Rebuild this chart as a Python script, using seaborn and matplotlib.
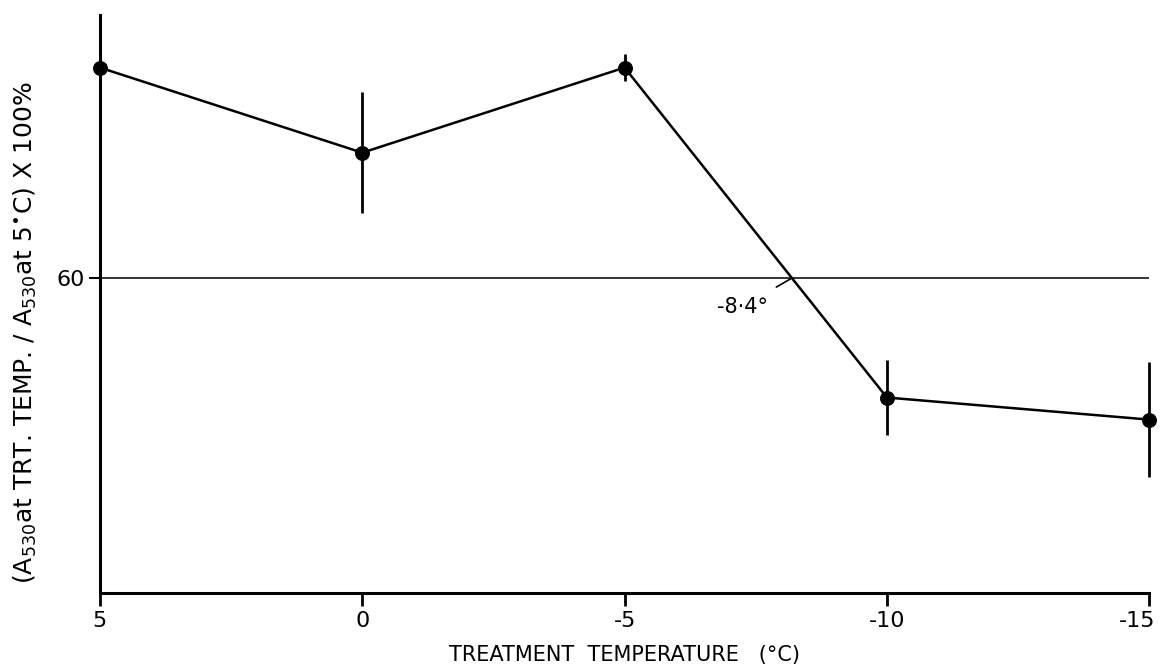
import matplotlib
matplotlib.use("Agg")
import matplotlib.pyplot as plt
import matplotlib.transforms as mtransforms
import seaborn as sns
import pandas as pd

# values
temps = [5, 0, -5, -10, -15]
ratio = [100, 83.8, 100, 37.2, 33.0]
err = [5, 11.5, 2.6, 7.2, 11.0]
x_ticks = [5, 0, -5, -10, -15]
x_labels = ['5', '0', '-5', '-10', '-15']
ref_level = 60
cross_temp = -8.2
cross_label = '-8·4°'

df = pd.DataFrame({'temp': temps, 'ratio': ratio, 'err': err})

sns.set_style('ticks')
plt.rcParams['font.family'] = ['DejaVu Sans']
plt.rcParams['text.color'] = 'black'
plt.rcParams['axes.labelcolor'] = 'black'
plt.rcParams['xtick.color'] = 'black'
plt.rcParams['ytick.color'] = 'black'

fig = plt.figure(figsize=(11.62, 6.72), dpi=100)
ax = fig.add_axes([0.086, 0.1176, 0.903, 0.860])

# error bars (no caps)
ax.errorbar(df['temp'], df['ratio'], yerr=df['err'], fmt='none',
            ecolor='black', elinewidth=2, capsize=0, zorder=3, clip_on=False)

sns.lineplot(data=df, x='temp', y='ratio', color='black', linewidth=1.8,
             marker='o', markersize=10, markeredgecolor='black',
             markerfacecolor='black', ax=ax, zorder=4, clip_on=False)

# 60% reference line
ax.axhline(ref_level, color='black', linewidth=1.1, zorder=2)

# annotation of crossing temperature
ax.annotate(cross_label, xy=(cross_temp, ref_level), xytext=(-7.25, 54.5),
            fontsize=15, ha='center', va='center',
            arrowprops=dict(arrowstyle='-', color='black', lw=1.2,
                            shrinkA=9, shrinkB=1))

ax.set_xlim(5, -15)
ax.set_ylim(0, 110)
ax.set_xticks(x_ticks)
ax.set_xticklabels(x_labels, fontsize=16)
ax.set_yticks([ref_level])
ax.set_yticklabels([str(ref_level)], fontsize=16)
ax.tick_params(axis='x', direction='out', length=9, width=2, pad=4)
ax.tick_params(axis='y', direction='out', length=8, width=1.5, pad=3)

# last tick label sits a little left of its tick, as in the scan
last = ax.get_xticklabels()[-1]
last.set_transform(last.get_transform() +
                   mtransforms.ScaledTranslation(-0.12, 0, fig.dpi_scale_trans))

sns.despine(ax=ax, top=True, right=True)
for s in ['left', 'bottom']:
    ax.spines[s].set_linewidth(2.2)
    ax.spines[s].set_color('black')

ax.set_xlabel('TREATMENT  TEMPERATURE   (°C)', fontsize=15, labelpad=10)
ax.set_ylabel(r'(A$_{530}$at TRT. TEMP. / A$_{530}$at 5$^{\bullet}$C) X 100%',
              fontsize=18)
ax.yaxis.set_label_coords(-0.058, 0.45)

fig.savefig('out.png', dpi=100, facecolor='white')
